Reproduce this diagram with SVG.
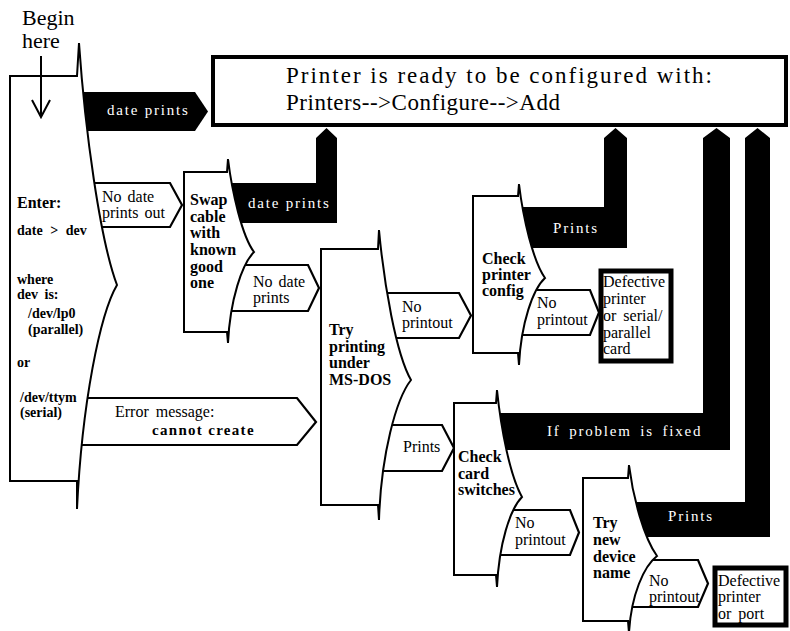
<svg xmlns="http://www.w3.org/2000/svg" width="790" height="631" viewBox="0 0 790 631">
<style>
.node{fill:#fff;stroke:#000;stroke-width:2;stroke-linejoin:miter;stroke-miterlimit:10}
.warr{fill:#fff;stroke:#000;stroke-width:2.2;stroke-linejoin:miter}
.barr{fill:#000;stroke:none}
.box{fill:#fff;stroke:#000;stroke-width:5}
.t{font-family:"Liberation Serif","Times New Roman",serif;font-size:16px;fill:#000}
.b{font-family:"Liberation Serif","Times New Roman",serif;font-size:16px;font-weight:bold;fill:#000}
.s{font-family:"Liberation Serif","Times New Roman",serif;font-size:14px;font-weight:bold;fill:#000}
.w{font-family:"Liberation Serif","Times New Roman",serif;font-size:15px;fill:#fff;letter-spacing:1.8px}
.big{font-family:"Liberation Serif","Times New Roman",serif;font-size:23px;fill:#000}
</style>
<rect width="790" height="631" fill="#fff"/>

<g id="connectors">
  <!-- black: date prints (Enter -> top) -->
  <polygon class="barr" points="70,92 195,92 208,111.5 195,131 70,131"/>
  <text class="w" x="107" y="115">date prints</text>
  <!-- white: No date prints out -->
  <polygon class="warr" points="85,183 170,183 182,205 170,227 85,227"/>
  <text class="t" x="102" y="202" style="word-spacing:2px">No date</text>
  <text class="t" x="102" y="218" style="word-spacing:2px">prints out</text>
  <!-- white: Error message -->
  <polygon class="warr" points="70,398 297,398 316,422 297,445 70,445"/>
  <text class="t" x="115" y="417" style="word-spacing:3px">Error message:</text>
  <text class="b" x="152" y="435" style="font-size:15px;letter-spacing:1.3px">cannot create</text>
  <!-- black: date prints (Swap -> top) -->
  <path class="barr" d="M215,183 H316 V138 L326.5,128 L337,138 V223 H215 Z"/>
  <text class="w" x="248" y="208">date prints</text>
  <!-- white: No date prints (Swap -> Try) -->
  <polygon class="warr" points="225,265 308,265 319,288 308,311 225,311"/>
  <text class="t" x="253" y="287" style="word-spacing:2px">No date</text>
  <text class="t" x="253" y="303">prints</text>
  <!-- white: No printout (Try -> Config) -->
  <polygon class="warr" points="370,293 459,293 471,315.5 459,338 370,338"/>
  <text class="t" x="402" y="312">No</text>
  <text class="t" x="402" y="328">printout</text>
  <!-- white: Prints (Try -> Card) -->
  <polygon class="warr" points="370,425 442,425 454,448 442,471 370,471"/>
  <text class="t" x="403" y="452">Prints</text>
  <!-- black: Prints (Config -> top) -->
  <path class="barr" d="M505,207 H604 V138 L615.5,128 L627,138 V248 H505 Z"/>
  <text class="w" x="553" y="233">Prints</text>
  <!-- white: No printout (Config -> Defective) -->
  <polygon class="warr" points="510,290 590,290 599,312.5 590,335 510,335"/>
  <text class="t" x="537" y="308">No</text>
  <text class="t" x="537" y="325">printout</text>
  <!-- black: If problem is fixed (Card -> top) -->
  <path class="barr" d="M480,413 H703 V138 L716.5,128 L730,138 V450 H480 Z"/>
  <text class="w" x="547" y="436" style="word-spacing:3px">If problem is fixed</text>
  <!-- white: No printout (Card -> Try new) -->
  <polygon class="warr" points="490,510 570,510 579,532.5 570,555 490,555"/>
  <text class="t" x="515" y="528">No</text>
  <text class="t" x="515" y="545">printout</text>
  <!-- black: Prints (Try new -> top) -->
  <path class="barr" d="M610,502 H745 V138 L757.5,128 L770,138 V537 H610 Z"/>
  <text class="w" x="668" y="521">Prints</text>
  <!-- white: No printout (Try new -> Defective) -->
  <polygon class="warr" points="615,560 698,560 708,583.5 698,607 615,607"/>
  <text class="t" x="649" y="586">No</text>
  <text class="t" x="649" y="602">printout</text>
</g>

<g id="ready">
  <rect x="213" y="57" width="573" height="68" fill="#fff" stroke="#000" stroke-width="4"/>
  <text class="big" x="286" y="83" textLength="426" lengthAdjust="spacing">Printer is ready to be configured with:</text>
  <text class="big" x="286" y="110" textLength="274" lengthAdjust="spacing">Printers--&gt;Configure--&gt;Add</text>
</g>

<g id="enter">
  <path class="node" d="M10,76 H77 L79,43 C85,130 100,240 117,285 C100,314 82,403 77,509 L77,481 H10 Z"/>
  <text class="b" x="17" y="208">Enter:</text>
  <text class="s" x="17" y="235" style="word-spacing:4px">date &gt; dev</text>
  <text class="s" x="17" y="284">where</text>
  <text class="s" x="17" y="299" style="word-spacing:3px">dev is:</text>
  <text class="s" x="28" y="318">/dev/lp0</text>
  <text class="s" x="28" y="334">(parallel)</text>
  <text class="s" x="17" y="367">or</text>
  <text class="s" x="20" y="402">/dev/ttym</text>
  <text class="s" x="20" y="417">(serial)</text>
</g>

<g id="begin">
  <text class="big" x="22" y="25" style="font-size:22px">Begin</text>
  <text class="big" x="22" y="48" style="font-size:22px">here</text>
  <path d="M41,56 V117 M32,100 L41,117 L50,100" fill="none" stroke="#000" stroke-width="2"/>
</g>

<g id="swap">
  <path class="node" d="M184,172 H227 L228,159 C232,192 242,236 254,252 C242,264 230,300 228,343 L227,332 H184 Z"/>
  <text class="b" x="190" y="205">Swap</text>
  <text class="b" x="190" y="222">cable</text>
  <text class="b" x="190" y="238">with</text>
  <text class="b" x="190" y="255">known</text>
  <text class="b" x="190" y="272">good</text>
  <text class="b" x="190" y="288">one</text>
</g>

<g id="try-msdos">
  <path class="node" d="M321,249 H378 L379,230 C384,284 396,354 411,380 C396,399 381,455 379,520 L378,505 H321 Z"/>
  <text class="b" x="329" y="335">Try</text>
  <text class="b" x="329" y="352">printing</text>
  <text class="b" x="329" y="368">under</text>
  <text class="b" x="329" y="385">MS-DOS</text>
</g>

<g id="check-config">
  <path class="node" d="M473,196 H518 L519,184 C523,218 533,261 545,278 C533,289 521,323 519,365 L518,353 H473 Z"/>
  <text class="b" x="482" y="264">Check</text>
  <text class="b" x="482" y="280">printer</text>
  <text class="b" x="482" y="296">config</text>
</g>

<g id="defective-card">
  <rect class="box" x="601" y="271" width="70" height="90"/>
  <text class="t" x="603" y="287">Defective</text>
  <text class="t" x="603" y="304">printer</text>
  <text class="t" x="603" y="321" style="word-spacing:3px">or serial/</text>
  <text class="t" x="603" y="338">parallel</text>
  <text class="t" x="603" y="354">card</text>
</g>

<g id="check-switches">
  <path class="node" d="M454,403 H496 L497,390 C501,429 510,476 522,497 C510,509 499,544 497,587 L496,575 H454 Z"/>
  <text class="b" x="458" y="462">Check</text>
  <text class="b" x="458" y="479">card</text>
  <text class="b" x="458" y="495">switches</text>
</g>

<g id="try-new">
  <path class="node" d="M583,478 H628 L629,465 C633,498 644,538 657,556 C644,566 631,595 629,633 L628,621 H583 Z"/>
  <text class="b" x="593" y="528">Try</text>
  <text class="b" x="593" y="545">new</text>
  <text class="b" x="593" y="562">device</text>
  <text class="b" x="593" y="578">name</text>
</g>

<g id="defective-port">
  <rect class="box" x="715" y="568" width="71" height="57"/>
  <text class="t" x="718" y="586">Defective</text>
  <text class="t" x="718" y="602">printer</text>
  <text class="t" x="718" y="619" style="word-spacing:3px">or port</text>
</g>
</svg>
